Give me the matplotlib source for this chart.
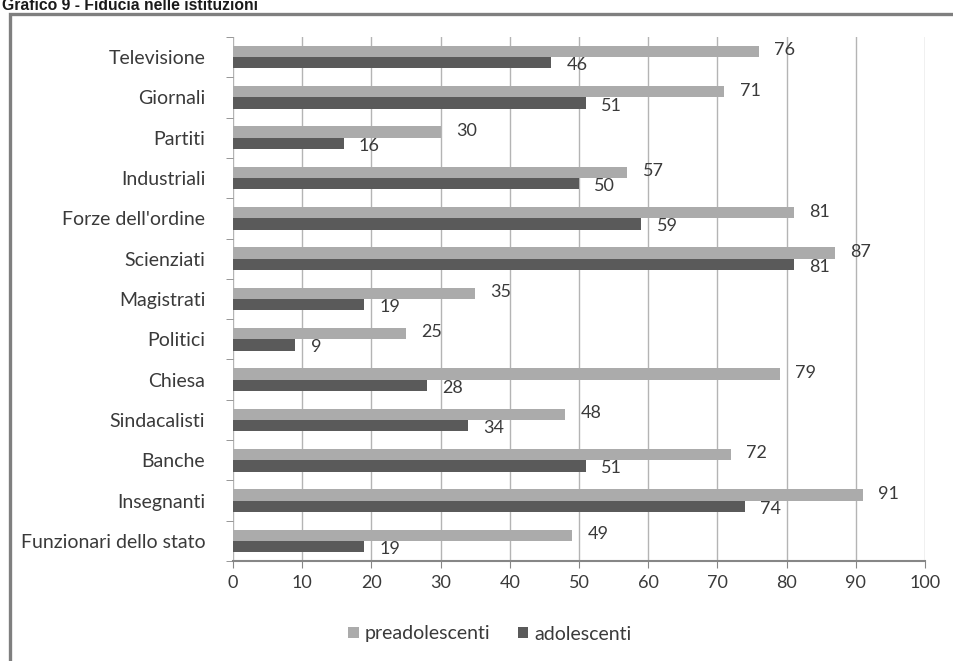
import numpy as np
import matplotlib
matplotlib.use("Agg")
import matplotlib.pyplot as plt
from matplotlib.patches import Rectangle

# data
categories = ["Televisione", "Giornali", "Partiti", "Industriali", "Forze dell'ordine",
              "Scienziati", "Magistrati", "Politici", "Chiesa", "Sindacalisti",
              "Banche", "Insegnanti", "Funzionari dello stato"]
preadolescenti = [76, 71, 30, 57, 81, 87, 35, 25, 79, 48, 72, 91, 49]
adolescenti = [46, 51, 16, 50, 59, 81, 19, 9, 28, 34, 51, 74, 19]
xticks = [0, 10, 20, 30, 40, 50, 60, 70, 80, 90, 100]

plt.rcParams['font.family'] = ['Lato', 'DejaVu Sans']

light = "#ababab"
dark = "#5a5a5a"
txt = "#3a3a3a"

fig = plt.figure(figsize=(9.54, 6.61), dpi=100)
ax = fig.add_axes([233/954, 1-561/661, (925-233)/954, (561-37)/661])

n = len(categories)
y = np.arange(n)
h = 0.28
ax.barh(y - h/2, preadolescenti, height=h, color=light, label="preadolescenti", zorder=3)
ax.barh(y + h/2, adolescenti, height=h, color=dark, label="adolescenti", zorder=3)

for i in range(n):
    ax.text(preadolescenti[i] + 2.2, y[i] - h/2 - 0.03, str(preadolescenti[i]),
            va="center", ha="left", fontsize=13, color=txt)
    ax.text(adolescenti[i] + 2.2, y[i] + h/2 + 0.06, str(adolescenti[i]),
            va="center", ha="left", fontsize=13, color=txt)

ax.set_ylim(n - 0.5, -0.5)
ax.set_xlim(0, 100)
ax.set_yticks(y)
ax.set_yticklabels(categories, fontsize=14, color=txt)
ax.set_yticks(np.arange(n + 1) - 0.5, minor=True)
ax.tick_params(axis="y", which="major", length=0, pad=20)
ax.tick_params(axis="y", which="minor", length=5, color="#868686")
ax.set_xticks(xticks)
ax.set_xticklabels([str(v) for v in xticks], fontsize=13, color=txt)
ax.tick_params(axis="x", length=5, color="#868686", pad=5)

ax.grid(axis="x", color="#b4b4b4", linewidth=1, zorder=0)
for s in ["top", "right", "left"]:
    ax.spines[s].set_visible(False)
ax.spines["bottom"].set_color("#868686")
ax.spines["bottom"].set_linewidth(1.5)

leg = fig.legend(loc="center", bbox_to_anchor=(490/954, 1-634/661), ncol=2, frameon=False,
                 fontsize=14, handlelength=0.55, handleheight=0.55, handletextpad=0.3,
                 columnspacing=1.4)
for t in leg.get_texts():
    t.set_color(txt)

# outer frame of the chart area
fig.patches.append(Rectangle((10/954, -0.1), 1.2, 1 - 14/661 + 0.1, transform=fig.transFigure,
                             fill=False, edgecolor="#7f7f7f", linewidth=2.4))

# title, cut at the top edge as in the source image
fig.text(2/954, 1 - 10/661, "Grafico 9 - Fiducia nelle istituzioni", fontsize=11.3,
         fontweight="bold", family="Liberation Sans", va="baseline", ha="left", color="#1a1a1a")

fig.savefig("out.png", dpi=100)
